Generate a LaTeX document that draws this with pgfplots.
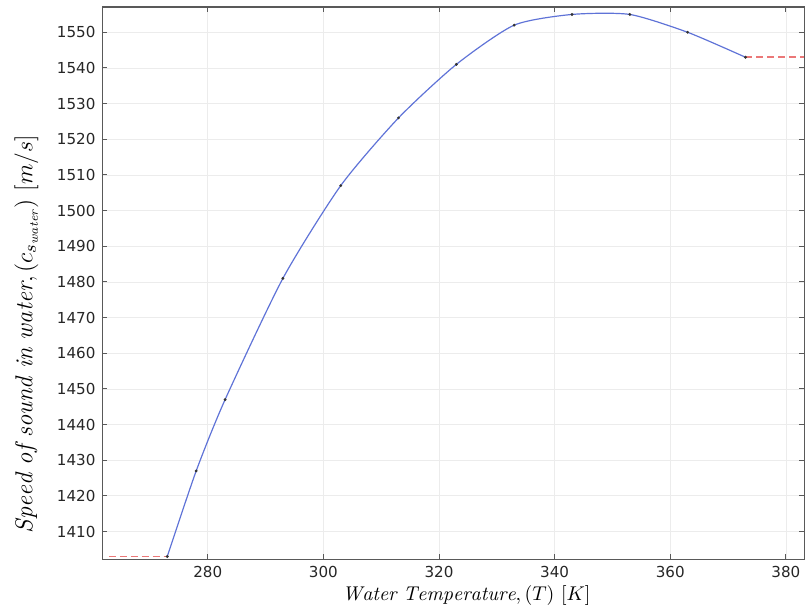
\documentclass[border=0pt]{standalone}
\usepackage{pgfplots}
\pgfplotsset{compat=1.18}
\usepackage{fontspec}
\newfontfamily\tickfont{DejaVu Sans}
\definecolor{curveblue}{RGB}{95,115,215}
\definecolor{extred}{RGB}{235,120,120}
\begin{document}
\begin{tikzpicture}
\begin{axis}[
  scale only axis,
  width=352.6pt, height=277.5pt,
  xmin=261.8, xmax=383.2,
  ymin=1402.2, ymax=1557.1,
  xtick={280,300,...,380},
  ytick={1410,1420,...,1550},
  grid=major,
  grid style={gray!15, line width=0.4pt},
  axis line style={gray!70!black, line width=0.6pt},
  tick style={gray!70!black, line width=0.5pt},
  tick align=inside, major tick length=2.5pt,
  ticklabel style={font=\tickfont\fontsize{7.6}{9}\selectfont, text=black!85},
  /pgf/number format/assume math mode=true,
  /pgf/number format/1000 sep={},
  unbounded coords=jump,
  xlabel={$\mathit{Water\ Temperature},(T)\ [K]$},
  ylabel={$\mathit{Speed\ of\ sound\ in\ water},\bigl(c_{s_{\mathit{water}}}\bigr)\ [m/s]$},
  xlabel style={font=\fontsize{10}{12}\selectfont, yshift=3pt, xshift=6.5pt},
  ylabel style={font=\fontsize{12.3}{14}\selectfont, yshift=2.5pt, xshift=-25.5pt},
]
\addplot[draw=extred, dash pattern=on 3.5pt off 2pt, line width=0.9pt] coordinates {
(262.9,1403) (273,1403) (320,nan) (373,1543) (383.2,1543)};
\addplot[curveblue, line width=0.6pt, smooth, tension=0.4] coordinates {
(273,1403) (278,1427) (283,1447) (293,1481) (303,1507) (313,1526)
(323,1541) (333,1552) (343,1555) (353,1555) (363,1550) (373,1543)};
\addplot[only marks, mark=*, mark size=0.5pt, black!80] coordinates {
(273,1403) (278,1427) (283,1447) (293,1481) (303,1507) (313,1526)
(323,1541) (333,1552) (343,1555) (353,1555) (363,1550) (373,1543)};
\path (rel axis cs:0,0) ++(-51.5pt,-26.5pt) coordinate (bbA);
\path (rel axis cs:1,1) ++(-0.6pt,3.5pt) coordinate (bbB);
\end{axis}
\useasboundingbox (bbA) rectangle (bbB);
\end{tikzpicture}
\end{document}
